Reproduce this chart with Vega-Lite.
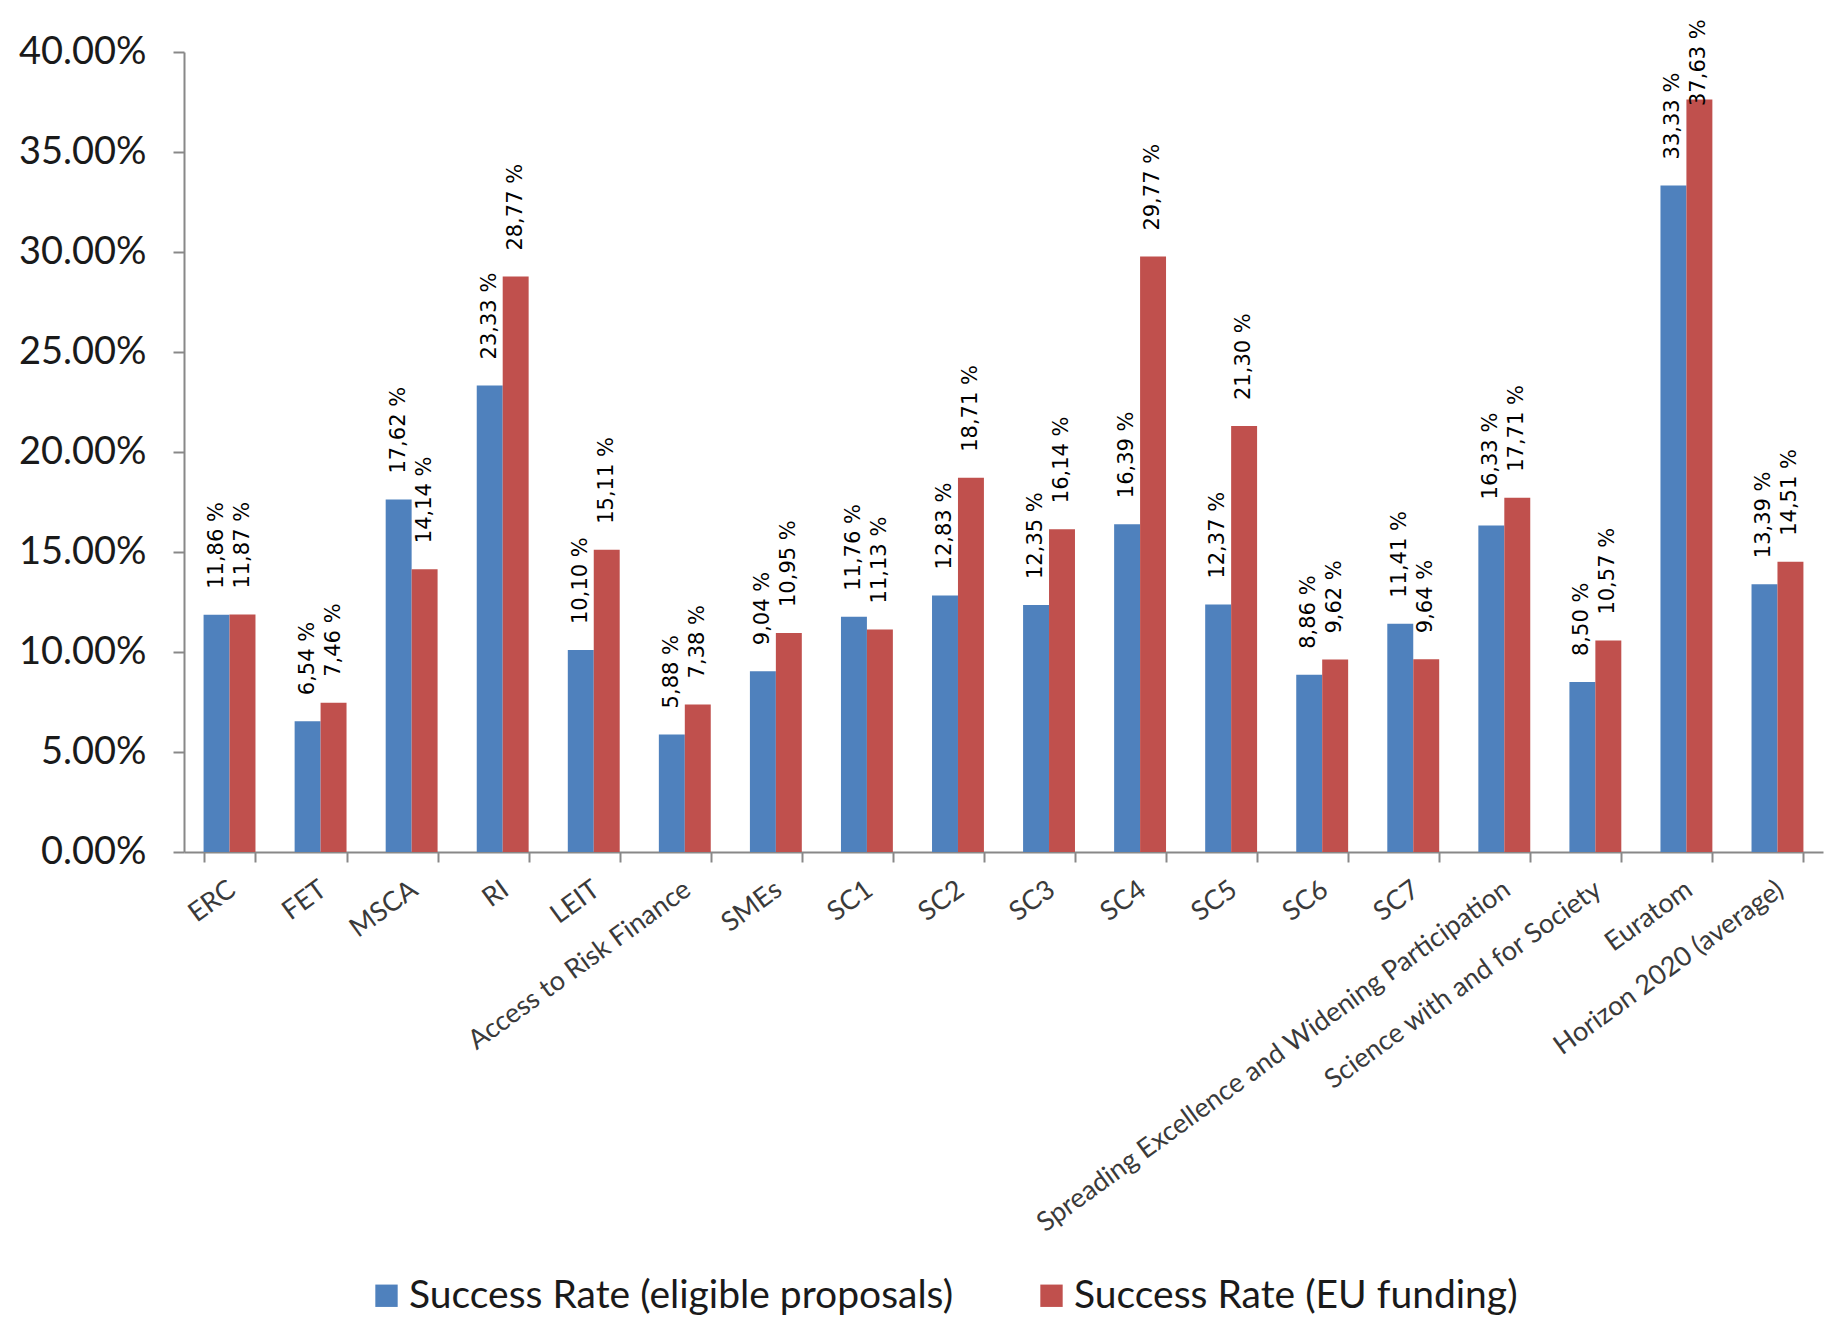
{
  "$schema": "https://vega.github.io/schema/vega-lite/v6.json",
  "width": 1639,
  "height": 800,
  "autosize": {"type": "none"},
  "padding": {"left": 184, "top": 52, "right": 14, "bottom": 475},
  "background": "white",
  "config": {
    "view": {"stroke": null},
    "axis": {"grid": false, "domainColor": "#888888", "tickColor": "#888888", "domainWidth": 2, "tickWidth": 2}
  },
  "data": {
    "values": [
      {"category": "ERC", "series": "Success Rate (eligible proposals)", "value": 11.86},
      {"category": "ERC", "series": "Success Rate (EU funding)", "value": 11.87},
      {"category": "FET", "series": "Success Rate (eligible proposals)", "value": 6.54},
      {"category": "FET", "series": "Success Rate (EU funding)", "value": 7.46},
      {"category": "MSCA", "series": "Success Rate (eligible proposals)", "value": 17.62},
      {"category": "MSCA", "series": "Success Rate (EU funding)", "value": 14.14},
      {"category": "RI", "series": "Success Rate (eligible proposals)", "value": 23.33},
      {"category": "RI", "series": "Success Rate (EU funding)", "value": 28.77},
      {"category": "LEIT", "series": "Success Rate (eligible proposals)", "value": 10.10},
      {"category": "LEIT", "series": "Success Rate (EU funding)", "value": 15.11},
      {"category": "Access to Risk Finance", "series": "Success Rate (eligible proposals)", "value": 5.88},
      {"category": "Access to Risk Finance", "series": "Success Rate (EU funding)", "value": 7.38},
      {"category": "SMEs", "series": "Success Rate (eligible proposals)", "value": 9.04},
      {"category": "SMEs", "series": "Success Rate (EU funding)", "value": 10.95},
      {"category": "SC1", "series": "Success Rate (eligible proposals)", "value": 11.76},
      {"category": "SC1", "series": "Success Rate (EU funding)", "value": 11.13},
      {"category": "SC2", "series": "Success Rate (eligible proposals)", "value": 12.83},
      {"category": "SC2", "series": "Success Rate (EU funding)", "value": 18.71},
      {"category": "SC3", "series": "Success Rate (eligible proposals)", "value": 12.35},
      {"category": "SC3", "series": "Success Rate (EU funding)", "value": 16.14},
      {"category": "SC4", "series": "Success Rate (eligible proposals)", "value": 16.39},
      {"category": "SC4", "series": "Success Rate (EU funding)", "value": 29.77},
      {"category": "SC5", "series": "Success Rate (eligible proposals)", "value": 12.37},
      {"category": "SC5", "series": "Success Rate (EU funding)", "value": 21.30},
      {"category": "SC6", "series": "Success Rate (eligible proposals)", "value": 8.86},
      {"category": "SC6", "series": "Success Rate (EU funding)", "value": 9.62},
      {"category": "SC7", "series": "Success Rate (eligible proposals)", "value": 11.41},
      {"category": "SC7", "series": "Success Rate (EU funding)", "value": 9.64},
      {"category": "Spreading Excellence and Widening Participation", "series": "Success Rate (eligible proposals)", "value": 16.33},
      {"category": "Spreading Excellence and Widening Participation", "series": "Success Rate (EU funding)", "value": 17.71},
      {"category": "Science with and for Society", "series": "Success Rate (eligible proposals)", "value": 8.50},
      {"category": "Science with and for Society", "series": "Success Rate (EU funding)", "value": 10.57},
      {"category": "Euratom", "series": "Success Rate (eligible proposals)", "value": 33.33},
      {"category": "Euratom", "series": "Success Rate (EU funding)", "value": 37.63},
      {"category": "Horizon 2020 (average)", "series": "Success Rate (eligible proposals)", "value": 13.39},
      {"category": "Horizon 2020 (average)", "series": "Success Rate (EU funding)", "value": 14.51}
    ]
  },
  "transform": [
    {"calculate": "replace(format(datum.value, '.2f'), '.', ',') + ' %'", "as": "label"},
    {"calculate": "min(datum.value, 36.0)", "as": "labelAnchor"}
  ],
  "encoding": {
    "x": {
      "field": "category",
      "type": "nominal",
      "sort": null,
      "title": null,
      "scale": {"paddingInner": 0.43, "paddingOuter": 0.215},
      "axis": {
        "labelAngle": -36,
        "labelFont": "Lato",
        "labelFontSize": 27,
        "labelColor": "#3a3a3a",
        "labelPadding": 14,
        "labelOffset": -5,
        "labelLimit": 1000,
        "tickSize": 10,
        "tickBand": "extent",
        "labelOverlap": false
      }
    },
    "xOffset": {
      "field": "series",
      "type": "nominal",
      "sort": ["Success Rate (eligible proposals)", "Success Rate (EU funding)"],
      "scale": {"paddingInner": 0, "paddingOuter": 0}
    }
  },
  "layer": [
    {
      "mark": {"type": "bar"},
      "encoding": {
        "y": {
          "field": "value",
          "type": "quantitative",
          "title": null,
          "scale": {"domain": [0, 40], "nice": false},
          "axis": {
            "values": [0, 5, 10, 15, 20, 25, 30, 35, 40],
            "labelExpr": "format(datum.value, '.2f') + '%'",
            "labelFont": "Lato",
            "labelFontSize": 38,
            "labelColor": "#1a1a1a",
            "labelPadding": 27,
            "tickSize": 11
          }
        },
        "color": {
          "field": "series",
          "type": "nominal",
          "scale": {
            "domain": ["Success Rate (eligible proposals)", "Success Rate (EU funding)"],
            "range": ["#4F81BD", "#C0504D"]
          },
          "legend": {
            "title": null,
            "orient": "none",
            "direction": "horizontal",
            "legendX": 183,
            "legendY": 1224,
            "padding": 0,
            "symbolType": "square",
            "symbolSize": 500,
            "symbolStrokeWidth": 0,
            "symbolOpacity": 1,
            "labelFont": "Lato",
            "labelFontSize": 39,
            "labelColor": "#1a1a1a",
            "labelOffset": 3,
            "labelLimit": 1000,
            "columnPadding": 78
          }
        }
      }
    },
    {
      "mark": {
        "type": "text",
        "angle": 270,
        "align": "left",
        "baseline": "middle",
        "dx": 26,
        "font": "DejaVu Sans",
        "fontSize": 21,
        "color": "#000000"
      },
      "encoding": {
        "y": {"field": "labelAnchor", "type": "quantitative"},
        "text": {"field": "label"}
      }
    }
  ]
}
